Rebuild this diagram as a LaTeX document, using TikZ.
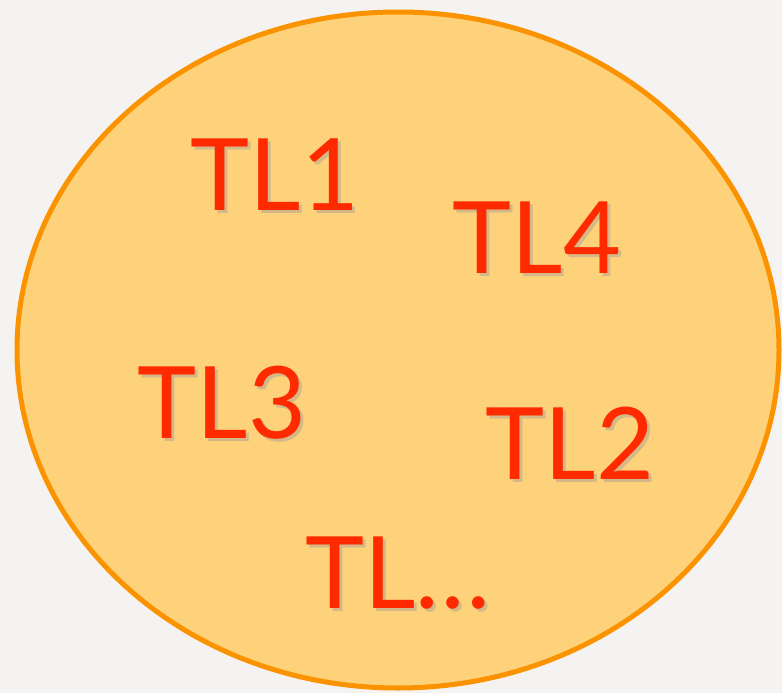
\documentclass[tikz,border=0pt]{standalone}
\usepackage{fontspec}
\setmainfont{Lato}
\usetikzlibrary{positioning,shapes.geometric}
\definecolor{Paper}{HTML}{F4F3F1}
\definecolor{Pool}{HTML}{FED27A}
\definecolor{Rim}{HTML}{FB9300}
\definecolor{Label}{HTML}{FF2A00}
\definecolor{Shade}{HTML}{B8A890}

\begin{document}
\begin{tikzpicture}[x=1pt,y=-1pt,
        tl/.style={text=Label,inner sep=0pt,font=\fontsize{100}{100}\selectfont},
        sh/.style={tl,text=Shade,opacity=0.6}]
        \fill[Paper] (0,0) rectangle (782,693);
        \useasboundingbox (0,0) rectangle (782,693);
        \node[draw=Rim,line width=5pt,fill=Pool,ellipse,minimum width=762,minimum height=676,inner sep=0pt] (pool) at (398,350) {};
        % labels, each with a soft shadow
        \foreach \n/\t/\x/\y in {a/TL1/275/175,d/TL4/537/238,c/TL3/222/403,b/TL2/570/443,e/TL\ldots/398/573}{
          \node[sh] (\n-s) at (\x+3,\y+3) {\t};
          \node[tl] (\n) at (\x,\y) {\t};
        }
      \end{tikzpicture}
\end{document}
